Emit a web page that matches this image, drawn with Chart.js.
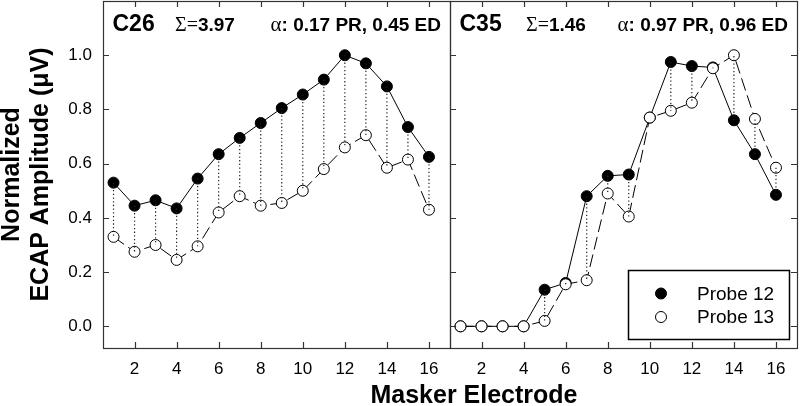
<!DOCTYPE html>
<html>
<head>
<meta charset="utf-8">
<script src="https://cdn.jsdelivr.net/npm/chart.js@4.4.1/dist/chart.umd.min.js"></script>
<style>
  html, body { margin: 0; padding: 0; background: #fff; }
  #wrap { position: relative; width: 800px; height: 406px; overflow: hidden; font-family: "Liberation Sans", Arial, sans-serif; }
  #left { position: absolute; left: 0; top: 0; }
  #right { position: absolute; left: 440px; top: 0; }
  #xtitle { position: absolute; left: 274px; width: 400px; top: 382px; text-align: center; font-weight: bold; font-size: 25px; line-height: 25px; color: #000; }
</style>
</head>
<body>
<div id="wrap">
  <canvas id="left" width="460" height="406"></canvas>
  <canvas id="right" width="360" height="406"></canvas>
  <div id="xtitle">Masker Electrode</div>
</div>
<script>
// masker electrodes 1..16
const electrodes = [1, 2, 3, 4, 5, 6, 7, 8, 9, 10, 11, 12, 13, 14, 15, 16];

// C26
const c26Probe12 = [0.53, 0.445, 0.465, 0.435, 0.545, 0.635, 0.695, 0.75, 0.805, 0.855, 0.91, 1.0, 0.97, 0.885, 0.735, 0.625];
const c26Probe13 = [0.33, 0.275, 0.30, 0.245, 0.295, 0.42, 0.48, 0.445, 0.455, 0.50, 0.58, 0.66, 0.705, 0.585, 0.615, 0.43];

// C35
const c35Probe12 = [0, 0, 0, 0, 0.135, 0.16, 0.48, 0.555, 0.56, 0.77, 0.975, 0.96, 0.955, 0.76, 0.635, 0.485];
const c35Probe13 = [0, 0, 0, 0, 0.02, 0.155, 0.17, 0.49, 0.405, 0.77, 0.795, 0.825, 0.952, 1.0, 0.765, 0.585];

const xTicks = [2, 4, 6, 8, 10, 12, 14, 16];
const yTicks = [0, 0.2, 0.4, 0.6, 0.8, 1.0];

const seriesNames = ['Probe 12', 'Probe 13'];
const panelNames = ['C26', 'C35'];
const sigmaValues = ['3.97', '1.46'];
const alphaValues = ['0.17 PR, 0.45 ED', '0.97 PR, 0.96 ED'];

const sans = '"Liberation Sans", Arial, sans-serif';
const serif = '"Liberation Serif", "Times New Roman", serif';

function pts(ys) {
  return electrodes.map((e, i) => ({ x: e, y: ys[i] }));
}

// dotted vertical connectors between the two probes
function connectors(a, b) {
  const out = [];
  electrodes.forEach((e, i) => {
    out.push({ x: e, y: a[i] }, { x: e, y: b[i] }, { x: e, y: null });
  });
  return out;
}

function datasets(p12, p13) {
  return [
    {
      label: 'link', data: connectors(p12, p13), showLine: true, spanGaps: false,
      borderColor: '#222', borderWidth: 1.2, borderDash: [1.3, 2.4], pointRadius: 0
    },
    {
      label: seriesNames[1], data: pts(p13), showLine: true,
      borderColor: '#000', borderWidth: 1, borderDash: [13, 5],
      pointRadius: 5.5, pointBackgroundColor: '#fff', pointBorderColor: '#000', pointBorderWidth: 1
    },
    {
      label: seriesNames[0], data: pts(p12), showLine: true,
      borderColor: '#000', borderWidth: 1,
      pointRadius: 5.5, pointBackgroundColor: '#000', pointBorderColor: '#000', pointBorderWidth: 1
    }
  ];
}

// frame + inward tick marks
const frameTicks = {
  id: 'frameTicks',
  afterDraw(chart, args, opts) {
    const { ctx, chartArea: a, scales: { x, y } } = chart;
    ctx.save();
    ctx.strokeStyle = '#333';
    ctx.lineWidth = 1.2;
    ctx.strokeRect(a.left + 0.5, a.top + 0.5, a.right - a.left, a.bottom - a.top);
    ctx.beginPath();
    const len = 6;
    xTicks.forEach(v => {
      const px = Math.round(x.getPixelForValue(v)) + 0.5;
      ctx.moveTo(px, a.bottom); ctx.lineTo(px, a.bottom - len);
      ctx.moveTo(px, a.top); ctx.lineTo(px, a.top + len);
    });
    yTicks.forEach(v => {
      const py = Math.round(y.getPixelForValue(v)) + 0.5;
      ctx.moveTo(a.left, py); ctx.lineTo(a.left + len, py);
      if (opts.rightTicks) { ctx.moveTo(a.right, py); ctx.lineTo(a.right - len, py); }
    });
    ctx.stroke();
    ctx.restore();
  }
};

// panel header: name, sigma, alpha
const header = {
  id: 'header',
  afterDraw(chart, args, opts) {
    const { ctx, chartArea: a } = chart;
    ctx.save();
    ctx.fillStyle = '#000';
    ctx.textBaseline = 'alphabetic';
    ctx.textAlign = 'left';
    const base = a.top + 29.5;
    ctx.font = 'bold 23px ' + sans;
    ctx.fillText(opts.name, a.left + 9.5, base);

    let sx = a.left + opts.sigmaX;
    ctx.font = '20px ' + serif;
    ctx.fillText('Σ=', sx, base);
    sx += ctx.measureText('Σ=').width;
    ctx.font = 'bold 19px ' + sans;
    ctx.fillText(opts.sigma, sx, base);

    ctx.font = '21px ' + serif;
    const wA = ctx.measureText('α').width;
    ctx.font = 'bold 19px ' + sans;
    const rest = ': ' + opts.alpha;
    const wR = ctx.measureText(rest).width;
    const ax = a.right - 9 - wA - wR;
    ctx.font = '21px ' + serif;
    ctx.fillText('α', ax, base);
    ctx.font = 'bold 19px ' + sans;
    ctx.fillText(rest, ax + wA, base);
    ctx.restore();
  }
};

// boxed legend in the lower right of a panel
const boxLegend = {
  id: 'boxLegend',
  afterDraw(chart, args, opts) {
    if (!opts.show) return;
    const { ctx, chartArea: a } = chart;
    const w = 161, h = 69;
    const bx = a.right - 8 - w, by = a.bottom - 9 - h;
    ctx.save();
    ctx.fillStyle = '#fff';
    ctx.fillRect(bx, by, w, h);
    ctx.strokeStyle = '#000';
    ctx.lineWidth = 1.5;
    ctx.strokeRect(bx + 0.5, by + 0.5, w, h);
    const items = [chart.data.datasets[2], chart.data.datasets[1]];
    items.forEach((ds, i) => {
      const cy = by + 23.5 + i * 23.5;
      ctx.beginPath();
      ctx.arc(bx + 33, cy, 5.5, 0, Math.PI * 2);
      ctx.fillStyle = ds.pointBackgroundColor;
      ctx.fill();
      ctx.lineWidth = 1;
      ctx.strokeStyle = ds.pointBorderColor;
      ctx.stroke();
      ctx.fillStyle = '#000';
      ctx.font = '19px ' + sans;
      ctx.textBaseline = 'middle';
      ctx.fillText(ds.label, bx + 69, cy + 1);
    });
    ctx.restore();
  }
};

function noPad(s) {
  s.paddingTop = 0; s.paddingBottom = 0; s.paddingLeft = 0; s.paddingRight = 0;
}

function xScale() {
  return {
    type: 'linear', min: 0.5, max: 17,
    grid: { display: false, drawTicks: false },
    border: { display: false },
    afterBuildTicks: s => { s.ticks = xTicks.map(v => ({ value: v })); },
    afterFit: s => { s.height = 58; noPad(s); },
    ticks: { color: '#000', padding: 11, maxRotation: 0, autoSkip: false, font: { family: sans, size: 17 } }
  };
}

function yScale(show) {
  return {
    type: 'linear', min: -0.08, max: 1.2, display: show,
    grid: { display: false, drawTicks: false },
    border: { display: false },
    afterBuildTicks: s => { s.ticks = yTicks.map(v => ({ value: v })); },
    afterFit: s => { s.width = show ? 103 : 0; noPad(s); },
    ticks: { color: '#000', padding: 11, font: { family: sans, size: 17 }, callback: v => v.toFixed(1) },
    title: {
      display: show, text: ['Normalized', 'ECAP Amplitude (μV)'], color: '#000',
      font: { family: sans, size: 25, weight: 'bold', lineHeight: 1.16 }, padding: { top: -2, bottom: 0 }
    }
  };
}

function makeChart(id, p12, p13, idx, isRight) {
  return new Chart(document.getElementById(id), {
    type: 'scatter',
    data: { datasets: datasets(p12, p13) },
    options: {
      responsive: false,
      animation: false,
      layout: {
        autoPadding: false,
        padding: isRight ? { top: 1, left: 10, right: 3, bottom: 0 } : { top: 1, left: 0, right: 10, bottom: 0 }
      },
      scales: { x: xScale(), y: yScale(!isRight) },
      plugins: {
        legend: { display: false },
        tooltip: { enabled: false },
        frameTicks: { rightTicks: isRight },
        header: { name: panelNames[idx], sigma: sigmaValues[idx], alpha: alphaValues[idx], sigmaX: isRight ? 76 : 72 },
        boxLegend: { show: isRight }
      }
    },
    plugins: [frameTicks, header, boxLegend]
  });
}

makeChart('left', c26Probe12, c26Probe13, 0, false);
makeChart('right', c35Probe12, c35Probe13, 1, true);
</script>
</body>
</html>
